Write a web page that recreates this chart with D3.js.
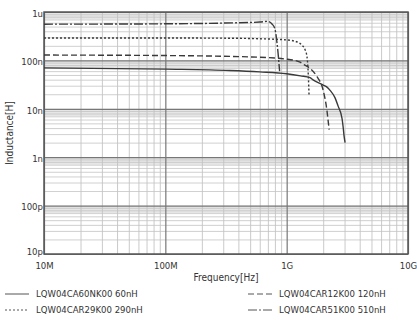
<!DOCTYPE html>
<html><head><meta charset="utf-8">
<script src="https://cdn.jsdelivr.net/npm/d3@7/dist/d3.min.js"></script>
<style>
body{margin:0;background:#fff;}
text{font-family:"DejaVu Sans Condensed","Liberation Sans Narrow","DejaVu Sans",sans-serif;fill:#333;}
</style></head>
<body><svg id="c" width="417" height="320"></svg>
<script>
// Frequency in MHz, inductance in nH
const xTickValues = [1e7, 1e8, 1e9, 1e10];
const xTickLabels = ["10M", "100M", "1G", "10G"];
const yTickValues = [1e-11, 1e-10, 1e-9, 1e-8, 1e-7, 1e-6];
const yTickLabels = ["10p", "100p", "1n", "10n", "100n", "1u"];

const freq60 = [10, 100, 340, 600, 1000, 1300, 1560, 1650, 2000, 2150, 2280, 2500, 2650, 2860, 2920, 2970, 3030];
const ind60  = [70, 66, 62, 58, 53, 48, 44, 39.5, 31, 28, 24, 17, 11.5, 6.3, 4.2, 2.8, 2.0];

const freq120 = [10, 100, 500, 1000, 1290, 1390, 1560, 1780, 2000, 2150, 2200, 2240];
const ind120  = [129, 126, 118, 106, 92, 82, 68, 46, 24, 9, 5.5, 3.7];

const freq290 = [10, 100, 300, 600, 1000, 1220, 1340, 1420, 1470, 1500, 1520, 1530];
const ind290  = [290, 290, 288, 280, 265, 240, 205, 165, 120, 65, 30, 18];

const freq510 = [10, 100, 300, 600, 690, 760, 800, 818, 834, 850, 866, 875];
const ind510  = [560, 570, 590, 620, 640, 560, 450, 330, 220, 140, 80, 60];

const seriesNames = ["LQW04CA60NK00 60nH", "LQW04CAR12K00 120nH", "LQW04CAR29K00 290nH", "LQW04CAR51K00 510nH"];

const svg = d3.select("#c");
const L = 44, R = 408, T = 12, B = 254;
const x = d3.scaleLog().domain([1e7, 1e10]).range([L, R]);
const y = d3.scaleLog().domain([1e-11, 1e-6]).range([B, T]);

// gray bands below each decade line (0.7..1.0 of decade)
const bandDecades = yTickValues.slice(1);
svg.append("g").selectAll("rect").data(bandDecades).join("rect")
  .attr("x", L).attr("width", R - L)
  .attr("y", d => y(d)).attr("height", d => y(d * 0.7) - y(d))
  .attr("fill", "#e6e6e6");

// minor grid values
const minorX = [], minorY = [];
for (let e = 7; e < 10; e++) for (let m = 2; m <= 9; m++) minorX.push(m * Math.pow(10, e));
for (let e = -11; e < -6; e++) for (let m = 2; m <= 9; m++) minorY.push(m * Math.pow(10, e));

const gMinX = svg.append("g").attr("transform", `translate(0,${B})`)
  .call(d3.axisBottom(x).tickValues(minorX).tickSize(-(B - T)).tickFormat(""));
gMinX.select(".domain").remove();
gMinX.selectAll("line").attr("stroke", "#bcbcbc").attr("stroke-width", 0.8);

const gMinY = svg.append("g").attr("transform", `translate(${L},0)`)
  .call(d3.axisLeft(y).tickValues(minorY).tickSize(-(R - L)).tickFormat(""));
gMinY.select(".domain").remove();
gMinY.selectAll("line").attr("stroke", "#c4c4c4").attr("stroke-width", 0.8);

// major grid + labels
const gX = svg.append("g").attr("transform", `translate(0,${B})`)
  .call(d3.axisBottom(x).tickValues(xTickValues).tickSize(-(B - T)).tickPadding(8)
    .tickFormat((d, i) => xTickLabels[i]));
gX.select(".domain").remove();
gX.selectAll("line").attr("stroke", "#777").attr("stroke-width", 1.2);
gX.selectAll("text").attr("font-size", 9.5).attr("fill", "#333")
  .attr("font-family", "DejaVu Sans Condensed, sans-serif");

const gY = svg.append("g").attr("transform", `translate(${L},0)`)
  .call(d3.axisLeft(y).tickValues(yTickValues).tickSize(-(R - L)).tickPadding(1)
    .tickFormat((d, i) => yTickLabels[i]));
gY.select(".domain").remove();
gY.selectAll("line").attr("stroke", "#777").attr("stroke-width", 1.2);
gY.selectAll("text").attr("font-size", 9.5).attr("fill", "#333")
  .attr("dy", (d, i) => i === 0 ? "0.1em" : "0.45em")
  .attr("font-family", "DejaVu Sans Condensed, sans-serif");

// frame
svg.append("rect").attr("x", L).attr("y", T).attr("width", R - L).attr("height", B - T)
  .attr("fill", "none").attr("stroke", "#555").attr("stroke-width", 1.5);

// curves
const series = [
  {f: freq60, l: ind60, dash: null},
  {f: freq120, l: ind120, dash: "6,3"},
  {f: freq290, l: ind290, dash: "2,2"},
  {f: freq510, l: ind510, dash: "9,2,2,2"}
];
const line = d3.line().x(d => x(d[0])).y(d => y(d[1])).curve(d3.curveMonotoneX);
series.forEach(s => {
  const pts = s.f.map((f, i) => [f * 1e6, s.l[i] * 1e-9]);
  svg.append("path").attr("d", line(pts)).attr("fill", "none")
    .attr("stroke", "#3a3a3a").attr("stroke-width", 1.4)
    .attr("stroke-dasharray", s.dash);
});

// axis titles
svg.append("text").attr("x", 226).attr("y", 281).attr("text-anchor", "middle")
  .attr("font-size", 10).text("Frequency[Hz]");
svg.append("text").attr("transform", "translate(13,133) rotate(-90)")
  .attr("text-anchor", "middle").attr("font-size", 10).text("Inductance[H]");

// legend
const legPos = [[5, 297], [248, 297], [5, 313], [248, 313]];
const legOrder = [0, 1, 2, 3];
legOrder.forEach((si, k) => {
  const [lx, ly] = legPos[k];
  svg.append("line").attr("x1", lx).attr("x2", lx + 24).attr("y1", ly - 3).attr("y2", ly - 3)
    .attr("stroke", "#555").attr("stroke-width", 1)
    .attr("stroke-dasharray", series[si].dash);
  svg.append("text").attr("x", lx + 31).attr("y", ly).attr("font-size", 9.5).text(seriesNames[si]);
});
</script></body></html>
